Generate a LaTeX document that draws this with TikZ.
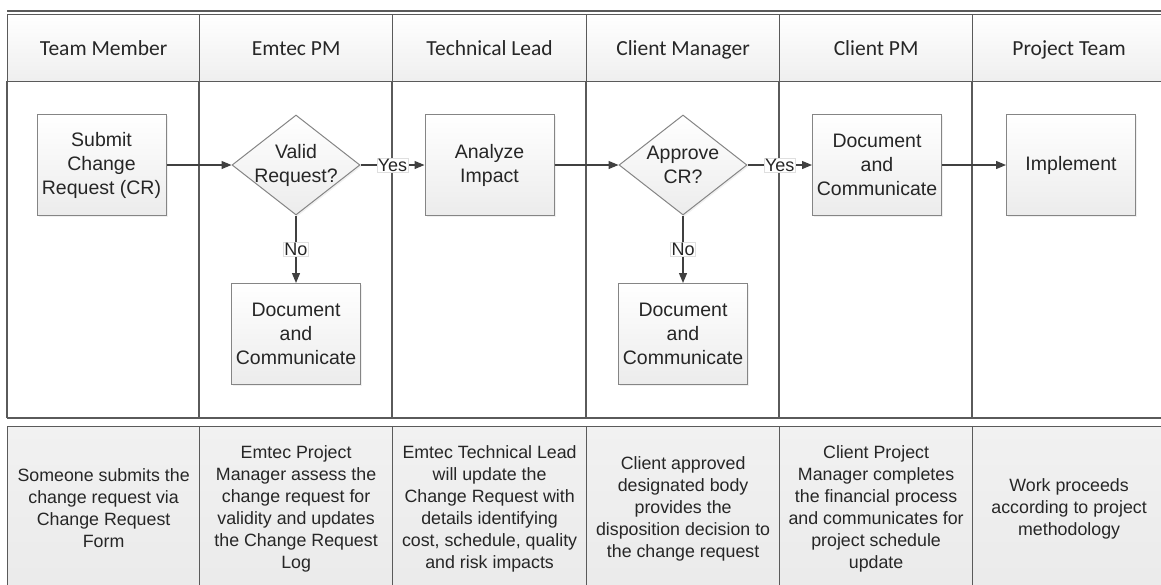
\documentclass[tikz,border=0pt]{standalone}
\usepackage{fontspec}
\setmainfont{Liberation Sans}
\newfontfamily\hdrfont{Carlito}
\usetikzlibrary{shapes.geometric,arrows.meta,shadows}
\definecolor{laneline}{HTML}{5A5A5A}
\definecolor{boxline}{HTML}{858585}
\definecolor{flowline}{HTML}{404040}
\definecolor{inktext}{HTML}{262626}

\begin{document}
\begin{tikzpicture}[x=1pt,y=-1pt,
        lane/.style={draw=laneline, line width=1.2pt},
        hdr/.style={draw=laneline, line width=1.2pt, top color=white, bottom color=gray!13,
            anchor=north west, minimum height=67pt, inner sep=0pt, text=inktext,
            text height=18pt, text depth=3pt,
            font=\hdrfont\fontsize{21.5}{24}\selectfont},
        note/.style={draw=laneline, line width=1.2pt, top color=gray!11, bottom color=gray!16,
            anchor=north west, minimum height=164pt, inner sep=0pt, align=center, text=inktext,
            font=\fontsize{17.8}{22}\selectfont},
        task/.style={draw=boxline, line width=1pt, top color=white, bottom color=gray!15,
            minimum width=129pt, minimum height=101pt, align=center, text=inktext,
            font=\fontsize{19.5}{24}\selectfont,
            drop shadow={shadow xshift=1.5pt, shadow yshift=-1.5pt, opacity=.12, fill=gray}},
        decision/.style={task, diamond, aspect=1.28, minimum width=128pt, minimum height=100pt,
            inner sep=-5pt},
        flow/.style={draw=flowline, line width=1.2pt, -{Triangle[length=10pt,width=8pt]}},
        answer/.style={fill=white, draw=gray!25, line width=.4pt, inner sep=1pt, text=inktext,
            font=\fontsize{18}{20}\selectfont}]
    \useasboundingbox (0,0) rectangle (1161,584);

    % lanes
    \draw[laneline, line width=1.4pt] (7,11) -- (1165,11);
    \foreach \x/\w/\name/\txt in {7/192/hmember/Team Member, 199/193/hpm/Emtec PM,
            392/194/hlead/Technical Lead, 586/193/hmanager/Client Manager,
            779/193/hclient/Client PM, 972/193/hteam/Project Team}
        \node[hdr, minimum width=\w pt] (\name) at (\x,14) {\txt};
    \foreach \x in {7,199,392,586,779,972}
        \draw[lane] (\x,81) -- (\x,418);
    \draw[lane] (7,418) -- (1165,418);

    % notes
    \node[note, minimum width=192pt] (nmember) at (7,426)
        {Someone submits the\\change request via\\Change Request\\Form};
    \node[note, minimum width=193pt] (npm) at (199,426)
        {Emtec Project\\Manager assess the\\change request for\\validity and updates\\the Change Request\\Log};
    \node[note, minimum width=194pt] (nlead) at (392,426)
        {Emtec Technical Lead\\will update the\\Change Request with\\details identifying\\cost, schedule, quality\\and risk impacts};
    \node[note, minimum width=193pt] (nmanager) at (586,426)
        {Client approved\\designated body\\provides the\\disposition decision to\\the change request};
    \node[note, minimum width=193pt] (nclient) at (779,426)
        {Client Project\\Manager completes\\the financial process\\and communicates for\\project schedule\\update};
    \node[note, minimum width=193pt] (nteam) at (972,426)
        {Work proceeds\\according to project\\methodology};

    % process
    \node[task] (submit) at (101.5,165) {Submit\\Change\\Request (CR)};
    \node[decision] (valid) at (296,165) {Valid\\Request?};
    \node[task] (analyze) at (489.5,165) {Analyze\\Impact};
    \node[decision] (approve) at (683,165) {Approve\\CR?};
    \node[task] (docclient) at (877,165) {Document\\and\\Communicate};
    \node[task] (implement) at (1071,165) {Implement};
    \node[task] (docemtec) at (296,334) {Document\\and\\Communicate};
    \node[task] (docmanager) at (683,334) {Document\\and\\Communicate};

    \draw[flow] (submit.east) -- (valid.west);
    \draw[flow] (valid.east) -- node[answer] {Yes} (analyze.west);
    \draw[flow] (analyze.east) -- (approve.west);
    \draw[flow] (approve.east) -- node[answer] {Yes} (docclient.west);
    \draw[flow] (docclient.east) -- (implement.west);
    \draw[flow] (valid.south) -- node[answer] {No} (docemtec.north);
    \draw[flow] (approve.south) -- node[answer] {No} (docmanager.north);
\end{tikzpicture}
\end{document}
